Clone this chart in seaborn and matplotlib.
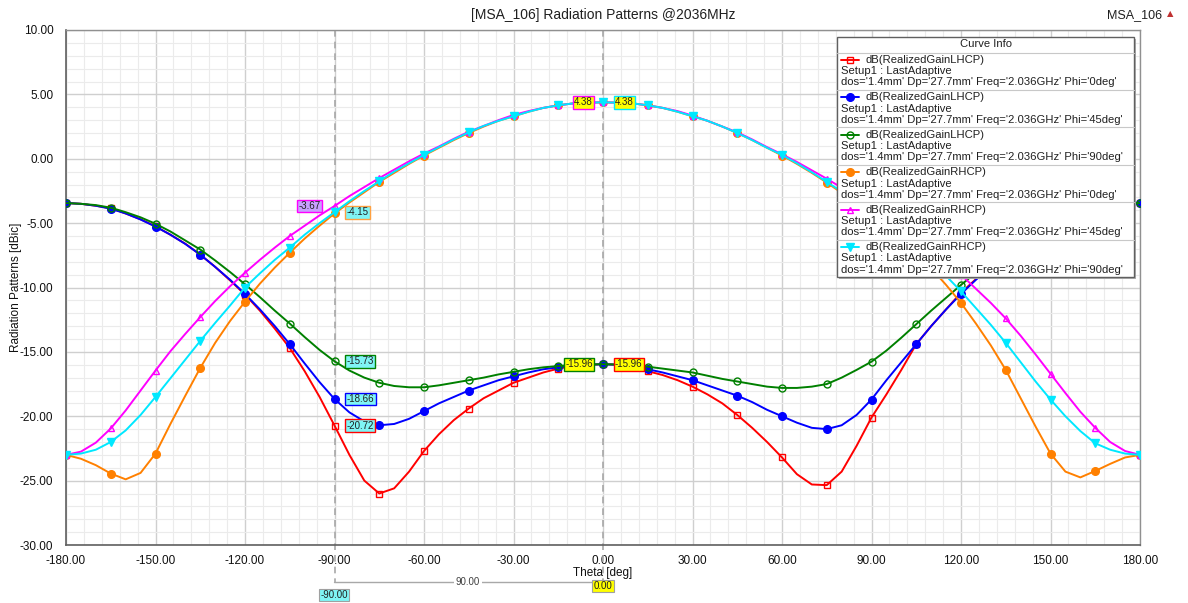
import numpy as np
import matplotlib
matplotlib.use("Agg")
import matplotlib.pyplot as plt
import matplotlib.transforms as mtransforms
from matplotlib.lines import Line2D
from matplotlib.patches import Rectangle
from matplotlib.ticker import MultipleLocator, FormatStrFormatter
import seaborn as sns

# -----------------------------
# Data (every 5 deg)
# -----------------------------
theta = list(range(-180, 181, 5))

lhcp_phi0 = [-3.44, -3.50, -3.65, -3.85, -4.25, -4.70, -5.25, -5.90, -6.60, -7.45,
             -8.40, -9.45, -10.55, -11.80, -13.20, -14.70, -16.50, -18.50, -20.72, -23.00,
             -25.00, -26.00, -25.60, -24.30, -22.70, -21.40, -20.30, -19.40, -18.60, -18.00,
             -17.40, -17.00, -16.60, -16.30, -16.10, -16.00, -15.96, -16.00, -16.20, -16.50,
             -16.80, -17.20, -17.70, -18.30, -19.00, -19.90, -20.90, -22.00, -23.20, -24.50,
             -25.30, -25.35, -24.30, -22.30, -20.10, -18.30, -16.40, -14.40, -13.00, -11.70,
             -10.40, -9.35, -8.35, -7.45, -6.60, -5.90, -5.25, -4.70, -4.25, -3.85,
             -3.65, -3.50, -3.44]
lhcp_phi45 = [-3.44, -3.50, -3.65, -3.88, -4.25, -4.72, -5.27, -5.90, -6.62, -7.45,
              -8.40, -9.40, -10.50, -11.70, -13.00, -14.40, -15.90, -17.35, -18.66, -19.70,
              -20.40, -20.70, -20.60, -20.20, -19.60, -19.00, -18.50, -18.00, -17.60, -17.20,
              -16.90, -16.60, -16.35, -16.20, -16.05, -16.00, -15.96, -16.00, -16.15, -16.35,
              -16.60, -16.90, -17.20, -17.60, -18.00, -18.40, -18.90, -19.50, -20.00, -20.50,
              -20.90, -21.00, -20.70, -19.90, -18.70, -17.20, -15.80, -14.40, -13.00, -11.70,
              -10.50, -9.40, -8.40, -7.45, -6.62, -5.90, -5.27, -4.72, -4.25, -3.88,
              -3.65, -3.50, -3.44]
lhcp_phi90 = [-3.44, -3.50, -3.60, -3.80, -4.15, -4.55, -5.05, -5.65, -6.35, -7.05,
              -7.90, -8.80, -9.75, -10.75, -11.80, -12.80, -13.85, -14.85, -15.73, -16.45,
              -17.00, -17.40, -17.65, -17.75, -17.75, -17.60, -17.40, -17.20, -17.00, -16.75,
              -16.55, -16.35, -16.20, -16.10, -16.00, -15.97, -15.96, -15.98, -16.05, -16.15,
              -16.30, -16.45, -16.60, -16.85, -17.10, -17.30, -17.50, -17.70, -17.80, -17.80,
              -17.70, -17.50, -17.00, -16.40, -15.76, -14.90, -13.90, -12.85, -11.80, -10.80,
              -9.80, -8.85, -7.95, -7.10, -6.35, -5.65, -5.05, -4.55, -4.15, -3.80,
              -3.60, -3.50, -3.44]
rhcp_phi0 = [-23.00, -23.30, -23.80, -24.45, -24.90, -24.40, -22.90, -20.60, -18.40, -16.25,
             -14.30, -12.60, -11.10, -9.70, -8.45, -7.30, -6.20, -5.20, -4.25, -3.40,
             -2.60, -1.80, -1.10, -0.40, 0.25, 0.85, 1.45, 2.00, 2.50, 2.95,
             3.30, 3.65, 3.95, 4.15, 4.30, 4.36, 4.38, 4.36, 4.30, 4.15,
             3.95, 3.65, 3.30, 2.95, 2.50, 2.00, 1.45, 0.85, 0.25, -0.40,
             -1.10, -1.85, -2.65, -3.45, -4.30, -5.20, -6.20, -7.30, -8.50, -9.80,
             -11.20, -12.80, -14.50, -16.40, -18.60, -20.80, -22.90, -24.30, -24.75, -24.25,
             -23.70, -23.20, -23.00]
rhcp_phi45 = [-23.00, -22.75, -22.05, -20.95, -19.55, -18.00, -16.45, -14.95, -13.60, -12.30,
              -11.05, -9.90, -8.85, -7.85, -6.90, -6.00, -5.20, -4.40, -3.67, -2.90,
              -2.20, -1.50, -0.85, -0.20, 0.40, 0.95, 1.55, 2.10, 2.55, 3.00,
              3.40, 3.70, 3.95, 4.15, 4.30, 4.36, 4.38, 4.36, 4.30, 4.15,
              3.95, 3.70, 3.35, 2.95, 2.50, 2.05, 1.50, 0.90, 0.35, -0.25,
              -0.90, -1.55, -2.25, -2.95, -3.70, -4.50, -5.30, -6.10, -7.00, -7.95,
              -9.00, -10.10, -11.20, -12.40, -13.75, -15.20, -16.70, -18.20, -19.65, -20.90,
              -22.00, -22.70, -23.00]
rhcp_phi90 = [-23.00, -22.90, -22.60, -22.00, -21.10, -19.90, -18.50, -17.05, -15.60, -14.15,
              -12.75, -11.40, -10.00, -8.90, -7.85, -6.90, -5.90, -5.00, -4.15, -3.30,
              -2.50, -1.75, -1.00, -0.35, 0.30, 0.90, 1.50, 2.05, 2.55, 2.95,
              3.30, 3.65, 3.95, 4.15, 4.30, 4.36, 4.38, 4.36, 4.30, 4.15,
              3.95, 3.65, 3.30, 2.95, 2.50, 2.00, 1.45, 0.85, 0.30, -0.35,
              -1.05, -1.80, -2.55, -3.35, -4.20, -5.10, -6.00, -7.00, -8.00, -9.10,
              -10.30, -11.60, -12.90, -14.30, -15.80, -17.30, -18.70, -20.00, -21.15, -22.10,
              -22.60, -22.90, -23.00]

curve_names = ["dB(RealizedGainLHCP)", "dB(RealizedGainLHCP)", "dB(RealizedGainLHCP)",
               "dB(RealizedGainRHCP)", "dB(RealizedGainRHCP)", "dB(RealizedGainRHCP)"]
phi_labels = ["0deg", "45deg", "90deg", "0deg", "45deg", "90deg"]

# marker readouts at theta = -90 and theta = 0
m1_labels = ["-3.67", "-4.15", "-15.73", "-18.66", "-20.72"]
m2_labels = ["4.38", "4.38", "-15.96", "-15.96"]

# -----------------------------
# Setup
# -----------------------------
sns.set_style("white")
plt.rcParams["font.family"] = ["Liberation Sans", "DejaVu Sans"]

W, H = 1188, 603
fig = plt.figure(figsize=(W / 100, H / 100), dpi=100)
ax = fig.add_axes([66 / W, 1 - 545 / H, (1140 - 66) / W, (545 - 30) / H])

def fx(px):
    return px / W

def fy(py):
    return 1 - py / H

styles = [
    # values, color, marker, filled, size
    (lhcp_phi0, "#ff0000", "s", False, 4.0),
    (lhcp_phi45, "#0000ff", "o", True, 5.5),
    (lhcp_phi90, "#008000", "o", False, 5.0),
    (rhcp_phi0, "#ff8000", "o", True, 5.5),
    (rhcp_phi45, "#ff00ff", "^", False, 5.0),
    (rhcp_phi90, "#00e8ff", "v", True, 5.5),
]

for i, (vals, c, m, filled, ms) in enumerate(styles):
    sns.lineplot(x=theta, y=vals, ax=ax, color=c, lw=1.4, marker=m, markersize=ms,
                 markevery=3, mfc=c if filled else "none", mec=c, mew=1.0,
                 errorbar=None, legend=False, zorder=3 + i)

# -----------------------------
# Axes styling
# -----------------------------
ax.set_xlim(-180, 180)
ax.set_ylim(-30, 10)
ax.xaxis.set_major_locator(MultipleLocator(30))
ax.xaxis.set_minor_locator(MultipleLocator(6))
ax.yaxis.set_major_locator(MultipleLocator(5))
ax.yaxis.set_minor_locator(MultipleLocator(1))
ax.xaxis.set_major_formatter(FormatStrFormatter("%.2f"))
ax.yaxis.set_major_formatter(FormatStrFormatter("%.2f"))
ax.grid(which="major", color="#cfcfcf", lw=1.0)
ax.grid(which="minor", color="#ebebeb", lw=0.8)
ax.set_axisbelow(True)
ax.tick_params(which="major", direction="out", length=6, width=1, color="#707070",
               labelsize=8.5, pad=3, labelcolor="#101010")
ax.tick_params(axis="x", which="major", pad=1.5)
ax.tick_params(which="minor", direction="out", length=3.5, width=0.8, color="#707070")
ax.tick_params(top=False, right=False, which="both")
for s in ["left", "bottom"]:
    ax.spines[s].set_color("#606060")
    ax.spines[s].set_linewidth(1.2)
for s in ["top", "right"]:
    ax.spines[s].set_color("#909090")
    ax.spines[s].set_linewidth(1.0)

ax.set_xlabel("Theta [deg]", fontsize=8.5, color="#101010")
ax.xaxis.set_label_coords(0.5, (545 - 567) / 515)
ax.set_ylabel("Radiation Patterns [dBic]", fontsize=8.5, color="#101010", va="center")
ax.yaxis.set_label_coords((16 - 66) / 1074, 0.5)
fig.text(fx(603), fy(15), "[MSA_106] Radiation Patterns @2036MHz", ha="center",
         va="center", fontsize=10, color="#202020")
fig.text(fx(1162), fy(15), "MSA_106", ha="right", va="center", fontsize=9, color="#202020")
fig.text(fx(1170), fy(14), "\u25b2", ha="center", va="center", fontsize=6,
         color="#c03030", family="DejaVu Sans")

# -----------------------------
# Markers m1 (-90) and m2 (0)
# -----------------------------
trans = mtransforms.blended_transform_factory(ax.transData, ax.transAxes)
for xv in [-90, 0]:
    ax.plot([xv, xv], [1, -0.072], transform=trans, clip_on=False, color="#a8a8a8",
            lw=1.2, ls=(0, (4, 3)), zorder=2)

def tag(x, y, text, fc, ec, dx):
    ha = "left" if dx > 0 else "right"
    ax.annotate(text, (x, y), xytext=(dx, 0), textcoords="offset pixels",
                ha=ha, va="center", fontsize=7, color="#202020", zorder=20,
                bbox=dict(boxstyle="square,pad=0.15", fc=fc, ec=ec, lw=1.0))

cyan_fc = "#7ff5f5"
yel_fc = "#ffff00"
tag(-90, rhcp_phi45[18], m1_labels[0], "#c8a0ff", "#ff00ff", -14)
tag(-90, rhcp_phi90[18], m1_labels[1], cyan_fc, "#ffa040", 12)
tag(-90, lhcp_phi90[18], m1_labels[2], cyan_fc, "#008000", 12)
tag(-90, lhcp_phi45[18], m1_labels[3], cyan_fc, "#0000ff", 12)
tag(-90, lhcp_phi0[18], m1_labels[4], cyan_fc, "#ff0000", 12)
tag(0, rhcp_phi45[36], m2_labels[0], yel_fc, "#ff00ff", -10)
tag(0, rhcp_phi90[36], m2_labels[1], yel_fc, "#00e8ff", 12)
tag(0, lhcp_phi90[36], m2_labels[2], yel_fc, "#008000", -10)
tag(0, lhcp_phi0[36], m2_labels[3], yel_fc, "#ff0000", 12)

# delta readout below the axis
fig.add_artist(Line2D([fx(334), fx(603)], [fy(582), fy(582)], color="#a8a8a8", lw=1.0))
fig.text(fx(468), fy(582), "90.00", ha="center", va="center", fontsize=7, color="#404040",
         bbox=dict(boxstyle="square,pad=0.2", fc="white", ec="none"))
fig.text(fx(334), fy(595), "-90.00", ha="center", va="center", fontsize=7, color="#202020",
         bbox=dict(boxstyle="square,pad=0.15", fc=cyan_fc, ec="#a0a0a0", lw=0.8))
fig.text(fx(603), fy(586), "0.00", ha="center", va="center", fontsize=7, color="#202020",
         bbox=dict(boxstyle="square,pad=0.15", fc=yel_fc, ec="#a0a0a0", lw=0.8))

# -----------------------------
# Curve Info box
# -----------------------------
lx0, lx1, ly0, ly1 = 837, 1134, 37, 277
fs_leg = 8.1
fig.add_artist(Rectangle((fx(lx0 + 2), fy(ly1 + 2)), (lx1 - lx0) / W, (ly1 - ly0) / H,
                         transform=fig.transFigure, fc="#b0b0b0", ec="none", zorder=9))
fig.add_artist(Rectangle((fx(lx0), fy(ly1)), (lx1 - lx0) / W, (ly1 - ly0) / H,
                         transform=fig.transFigure, fc="white", ec="#606060", lw=1.0, zorder=10))
fig.text(fx((lx0 + lx1) / 2), fy(44), "Curve Info", ha="center", va="center",
         fontsize=fs_leg, color="#202020", zorder=11)
fig.add_artist(Line2D([fx(lx0), fx(lx1)], [fy(52.5), fy(52.5)], color="#c8c8c8", lw=0.8, zorder=11))

for i, (vals, c, m, filled, ms) in enumerate(styles):
    y1 = 60 + 37.45 * i
    fig.add_artist(Line2D([fx(841), fx(859)], [fy(y1), fy(y1)], color=c, lw=1.4, zorder=11))
    fig.add_artist(Line2D([fx(850)], [fy(y1)], marker=m, markersize=ms, color=c,
                          mfc=c if filled else "none", mec=c, mew=1.0, zorder=12))
    fig.text(fx(866), fy(y1), curve_names[i], ha="left", va="center", fontsize=fs_leg,
             color="#202020", zorder=11)
    fig.text(fx(841), fy(y1 + 11.2), "Setup1 : LastAdaptive", ha="left", va="center",
             fontsize=fs_leg, color="#202020", zorder=11)
    fig.text(fx(841), fy(y1 + 22.4),
             "dos='1.4mm' Dp='27.7mm' Freq='2.036GHz' Phi='%s'" % phi_labels[i],
             ha="left", va="center", fontsize=fs_leg, color="#202020", zorder=11)
    if i < 5:
        ys = y1 + 30
        fig.add_artist(Line2D([fx(lx0), fx(lx1)], [fy(ys), fy(ys)], color="#c8c8c8",
                              lw=0.8, zorder=11))

fig.savefig("out.png", dpi=100)
